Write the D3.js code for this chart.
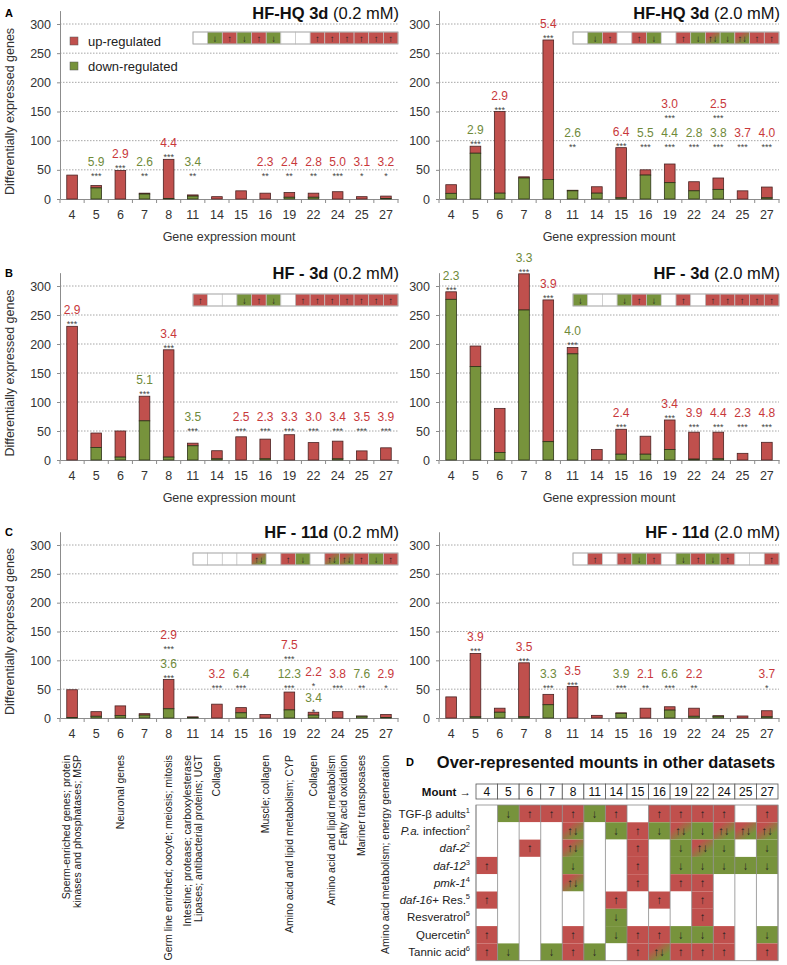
<!DOCTYPE html>
<html>
<head>
<meta charset="utf-8">
<script src="https://cdn.jsdelivr.net/npm/d3@7"></script>
<style>
  body { margin: 0; background: #fff; }
  svg { display: block; font-family: "Liberation Sans", Arial, sans-serif; }
</style>
</head>
<body>
<div id="chart"></div>
<script>
// ---- data ----
const mounts = ["4", "5", "6", "7", "8", "11", "14", "15", "16", "19", "22", "24", "25", "27"];
const yTicks = [0, 50, 100, 150, 200, 250, 300];

// total differentially expressed genes per mount and the down-regulated part
const hq3Low_total  = [41, 23, 49, 10, 68, 7, 4, 14, 10, 11, 10, 12.5, 4, 5];
const hq3Low_down   = [0, 19, 0, 8.5, 1, 5, 0, 0, 0, 3, 3, 0, 0, 1];
const hq3High_total = [24.5, 90.5, 150, 38, 272.6, 15, 21, 88, 50, 60, 29.6, 36, 14, 20.5];
const hq3High_down  = [9.7, 78.5, 10, 36, 33.5, 14, 10, 2, 41, 28, 14, 16.5, 0, 2];
const hf3Low_total  = [230.5, 46.5, 50, 110, 190, 29, 16, 40, 36, 43.6, 30, 32.5, 15.7, 21];
const hf3Low_down   = [0, 21.5, 5, 67.5, 5, 24.5, 2, 0, 2, 0, 0, 2, 0, 0];
const hf3High_total = [290, 196.5, 89, 321, 276, 194, 18, 53, 41, 69, 48, 48, 11.5, 30.5];
const hf3High_down  = [277, 161, 13, 258.6, 31.6, 183, 0, 10, 10, 18, 1.5, 2, 0, 0];
const hf11Low_total = [49, 11, 21, 7.5, 66.7, 2, 24, 18, 6, 45, 10, 11, 3.5, 6];
const hf11Low_down  = [1, 3, 4, 5, 16, 1, 0, 9, 0, 14, 5, 0, 3, 1];
const hf11High_total = [36.6, 112, 17, 95.7, 41, 54.5, 4.6, 9, 17, 19.5, 17, 4, 3.5, 12.6];
const hf11High_down  = [0, 2, 10, 2, 23, 0, 0, 8, 0, 13.7, 3, 3, 0, 2];

// over-representation: [mount, fold, significance, direction u/d]
const hq3Low_notes = [["5","5.9","***","d"],["6","2.9","***","u"],["7","2.6","**","d"],["8","4.4","***","u"],
  ["11","3.4","**","d"],["16","2.3","**","u"],["19","2.4","**","u"],["22","2.8","**","u"],["24","5.0","***","u"],
  ["25","3.1","*","u"],["27","3.2","*","u"]];
const hq3High_notes = [["5","2.9","***","d"],["6","2.9","***","u"],["8","5.4","***","u"],["11","2.6","**","d"],
  ["15","6.4","***","u"],["16","5.5","***","d"],["19","3.0","***","u"],["19","4.4","***","d"],["22","2.8","***","d"],
  ["24","2.5","***","u"],["24","3.8","***","d"],["25","3.7","***","u"],["27","4.0","***","u"]];
const hf3Low_notes = [["4","2.9","***","u"],["7","5.1","***","d"],["8","3.4","***","u"],["11","3.5","***","d"],
  ["15","2.5","***","u"],["16","2.3","***","u"],["19","3.3","***","u"],["22","3.0","***","u"],["24","3.4","***","u"],
  ["25","3.5","***","u"],["27","3.9","***","u"]];
const hf3High_notes = [["4","2.3","***","d"],["7","3.3","***","d"],["8","3.9","***","u"],["11","4.0","***","d"],
  ["15","2.4","***","u"],["19","3.4","***","u"],["22","3.9","***","u"],["24","4.4","***","u"],["25","2.3","***","u"],
  ["27","4.8","***","u"]];
const hf11Low_notes = [["8","2.9","***","u"],["8","3.6","***","d"],["14","3.2","***","u"],["15","6.4","***","d"],
  ["19","7.5","***","u"],["19","12.3","***","d"],["22","2.2","*","u"],["22","3.4","*","d"],["24","3.8","***","u"],
  ["25","7.6","**","d"],["27","2.9","*","u"]];
const hf11High_notes = [["5","3.9","***","u"],["7","3.5","***","u"],["8","3.3","***","d"],["11","3.5","***","u"],
  ["15","3.9","***","d"],["16","2.1","**","u"],["19","6.6","***","d"],["22","2.2","**","u"],["27","3.7","*","u"]];

// functional description of the mounts (below panel C)
const mountInfo = [["Sperm-enriched genes; protein", "kinases and phosphatases; MSP"], [], ["Neuronal genes"], [],
  ["Germ line enriched; oocyte; meiosis; mitosis"],
  ["Intestine; protease; carboxylesterase", "Lipases; antibacterial proteins; UGT"], ["Collagen"], [],
  ["Muscle; collagen"], ["Amino acid and lipid metabolism;  CYP"], ["Collagen"],
  ["Amino acid and lipid metabolism", "Fatty acid oxidation"], ["Mariner transposases"],
  ["Amino acid metabolism; energy generation"]];

// panel D: 1 up, -1 down, 2 both, 0 none
const otherItalic = ["", "P.a.", "daf-2", "daf-12", "pmk-1", "daf-16", "", "", ""];
const otherText   = ["TGF-β adults", " infection", "", "", "", "+ Res.", "Resveratrol", "Quercetin", "Tannic acid"];
const otherRef    = ["1", "2", "2", "3", "4", "5", "5", "6", "6"];
const otherCells = [
  [0,-1,1,1,1,-1,1,0,1,1,1,1,0,1],
  [0,0,0,0,2,0,-1,1,-1,2,-1,2,2,2],
  [0,0,1,0,2,0,0,1,0,-1,2,-1,0,-1],
  [1,0,0,0,-1,0,0,1,0,-1,-1,-1,-1,-1],
  [0,0,0,0,2,0,0,1,0,1,1,0,0,0],
  [1,0,0,0,0,0,1,0,1,0,1,0,0,0],
  [0,0,0,0,0,0,-1,0,0,0,1,0,0,0],
  [1,0,0,0,1,0,-1,1,1,-1,-1,1,0,-1],
  [1,-1,0,-1,1,-1,0,1,2,1,1,1,0,1]
];

// ---- layout ----
const FONT = '"Liberation Sans", Arial, sans-serif';
const RED = "#c0504d", GREEN = "#77933c";
const RED_TXT = "#c8383b", GREEN_TXT = "#6f8a3a";
const rows = [
  { top: 24, bot: 199, titleY: 13, stripY: 32, letter: "A" },
  { top: 286, bot: 460, titleY: 273, stripY: 294, letter: "B" },
  { top: 545, bot: 718, titleY: 532, stripY: 553, letter: "C" }
];
const cols = [
  { x0: 60, x1: 398, sx0: 193, sx1: 398 },
  { x0: 439, x1: 779, sx0: 573, sx1: 779 }
];

const panels = [
  { row: 0, col: 0, bold: "HF-HQ 3d", conc: "(0.2 mM)", total: hq3Low_total, down: hq3Low_down, notes: hq3Low_notes, floor: 36 },
  { row: 0, col: 1, bold: "HF-HQ 3d", conc: "(2.0 mM)", total: hq3High_total, down: hq3High_down, notes: hq3High_notes, floor: 86 },
  { row: 1, col: 0, bold: "HF - 3d", conc: "(0.2 mM)", total: hf3Low_total, down: hf3Low_down, notes: hf3Low_notes, floor: 46 },
  { row: 1, col: 1, bold: "HF - 3d", conc: "(2.0 mM)", total: hf3High_total, down: hf3High_down, notes: hf3High_notes, floor: 54 },
  { row: 2, col: 0, bold: "HF - 11d", conc: "(0.2 mM)", total: hf11Low_total, down: hf11Low_down, notes: hf11Low_notes, floor: 48, lowPair: ["22"] },
  { row: 2, col: 1, bold: "HF - 11d", conc: "(2.0 mM)", total: hf11High_total, down: hf11High_down, notes: hf11High_notes, floor: 49 }
];

const svg = d3.select("#chart").append("svg").attr("width", 787).attr("height", 965);

// red-green blend for "both directions" cells
const mix = svg.append("defs").append("linearGradient").attr("id", "mix")
  .attr("x1", "0%").attr("y1", "0%").attr("x2", "100%").attr("y2", "100%");
mix.append("stop").attr("offset", "25%").attr("stop-color", RED);
mix.append("stop").attr("offset", "75%").attr("stop-color", GREEN);

const cellFill = c => c === 1 ? RED : c === -1 ? GREEN : c === 2 ? "url(#mix)" : "#fff";
const cellArrow = c => c === 1 ? "↑" : c === -1 ? "↓" : c === 2 ? "↑↓" : "";

function stripCodes(notes) {
  return mounts.map(m => {
    const dirs = notes.filter(n => n[0] === m).map(n => n[3]);
    const up = dirs.includes("u"), dn = dirs.includes("d");
    return up && dn ? 2 : up ? 1 : dn ? -1 : 0;
  });
}


class BarPanel {
  constructor(svg, cfg) {
    this.cfg = cfg;
    this.row = rows[cfg.row];
    this.col = cols[cfg.col];
    this.g = svg.append("g").attr("class", "panel");
    const ppu = (this.row.bot - this.row.top) / 300;
    this.x = d3.scaleBand().domain(mounts).range([this.col.x0, this.col.x1])
      .paddingInner(0.56).paddingOuter(0.28);
    this.y = d3.scaleLinear().domain([0, 323]).range([this.row.bot, this.row.bot - 323 * ppu]);
  }

  draw() {
    this.drawGrid();
    this.drawAxes();
    this.drawBars();
    this.drawNotes();
    this.drawStrip();
    this.drawTitle();
  }

  drawGrid() {
    this.g.append("g").selectAll("line").data(yTicks.slice(1)).join("line")
      .attr("x1", this.col.x0).attr("x2", this.col.x1)
      .attr("y1", d => this.y(d)).attr("y2", d => this.y(d))
      .attr("stroke", "#8f8f8f").attr("stroke-width", 0.8).attr("stroke-dasharray", "1.5,1.5");
  }

  drawAxes() {
    const ya = this.g.append("g").attr("transform", `translate(${this.col.x0},0)`)
      .call(d3.axisLeft(this.y).tickValues(yTicks).tickSize(3).tickSizeOuter(0).tickPadding(6));
    ya.select(".domain").attr("stroke", "#8c8c8c");
    ya.selectAll(".tick line").attr("stroke", "#8c8c8c");
    ya.selectAll("text").attr("font-size", 12.5).attr("font-family", FONT).attr("fill", "#333");

    const xa = this.g.append("g").attr("transform", `translate(0,${this.row.bot})`)
      .call(d3.axisBottom(this.x).tickSize(0).tickSizeOuter(0).tickPadding(11));
    xa.select(".domain").attr("stroke", "#8c8c8c");
    xa.selectAll("text").attr("font-size", 12.5).attr("font-family", FONT).attr("fill", "#333");

    // separators between categories
    const step = this.x.step();
    this.g.append("g").selectAll("line").data(d3.range(mounts.length + 1)).join("line")
      .attr("x1", i => this.col.x0 + i * step).attr("x2", i => this.col.x0 + i * step)
      .attr("y1", this.row.bot).attr("y2", this.row.bot + 4)
      .attr("stroke", "#8c8c8c");

    if (this.cfg.row < 2) {
      this.g.append("text")
        .attr("x", (this.col.x0 + this.col.x1) / 2).attr("y", this.row.bot + 42)
        .attr("text-anchor", "middle").attr("font-size", 12.5).attr("fill", "#333")
        .text("Gene expression mount");
    }
    if (this.cfg.col === 0) {
      this.g.append("text")
        .attr("transform", `translate(14,${(this.row.top + this.row.bot) / 2}) rotate(-90)`)
        .attr("text-anchor", "middle").attr("font-size", 12.5).attr("fill", "#333")
        .text("Differentially expressed genes");
      this.g.append("text")
        .attr("x", 5).attr("y", this.row.titleY + 4)
        .attr("font-size", 11).attr("font-weight", "bold")
        .text(this.row.letter);
    }
  }

  drawBars() {
    const data = mounts.map((m, i) => ({ m, total: this.cfg.total[i], down: this.cfg.down[i] }));
    const bw = this.x.bandwidth();
    const bars = this.g.append("g").selectAll("g").data(data).join("g");
    bars.append("rect")
      .attr("x", d => this.x(d.m)).attr("width", bw)
      .attr("y", d => this.y(d.total)).attr("height", d => this.y(d.down) - this.y(d.total))
      .attr("fill", RED).attr("stroke", "#4a2222").attr("stroke-width", 0.8);
    bars.filter(d => d.down > 0).append("rect")
      .attr("x", d => this.x(d.m)).attr("width", bw)
      .attr("y", d => this.y(d.down)).attr("height", d => this.y(0) - this.y(d.down))
      .attr("fill", GREEN).attr("stroke", "#2c3318").attr("stroke-width", 0.8);
  }

  drawNotes() {
    const notesG = this.g.append("g");
    const bw = this.x.bandwidth();
    mounts.forEach((m, i) => {
      const here = this.cfg.notes.filter(n => n[0] === m)
        .sort((a, b) => (a[3] === "d" ? 0 : 1) - (b[3] === "d" ? 0 : 1));
      const total = this.cfg.total[i];
      const cx = this.x(m) + bw / 2;
      const low = this.cfg.lowPair && this.cfg.lowPair.includes(m);
      here.forEach((n, k) => {
        let base = Math.max(total, this.cfg.floor), level = k;
        let shift = 0;
        if (low) {
          base = k === 0 ? total : Math.max(total, this.cfg.floor);
          level = 0;
          shift = k === 0 ? 1.5 : -2;
        }
        const top = this.y(base) - level * 29 + shift;
        notesG.append("text")
          .attr("x", cx).attr("y", top + 1)
          .attr("text-anchor", "middle").attr("font-size", 9).attr("fill", "#444")
          .text(n[2]);
        notesG.append("text")
          .attr("x", cx).attr("y", top - 12)
          .attr("text-anchor", "middle").attr("font-size", 12)
          .attr("fill", n[3] === "u" ? RED_TXT : GREEN_TXT)
          .text(n[1]);
      });
    });
  }

  drawStrip() {
    const codes = stripCodes(this.cfg.notes);
    const sx = d3.scaleBand().domain(mounts).range([this.col.sx0, this.col.sx1]);
    const y0 = this.row.stripY, h = 12;
    const cells = this.g.append("g").selectAll("g").data(mounts.map((m, i) => ({ m, c: codes[i] }))).join("g");
    cells.append("rect")
      .attr("x", d => sx(d.m)).attr("y", y0).attr("width", sx.bandwidth()).attr("height", h)
      .attr("fill", d => cellFill(d.c)).attr("stroke", "#c4c4c4").attr("stroke-width", 0.7);
    cells.append("text")
      .attr("x", d => sx(d.m) + sx.bandwidth() / 2).attr("y", y0 + h / 2 + 3.5)
      .attr("text-anchor", "middle").attr("font-size", 9.5).attr("fill", "#222")
      .text(d => cellArrow(d.c));
    this.g.append("rect")
      .attr("x", this.col.sx0).attr("y", y0).attr("width", this.col.sx1 - this.col.sx0).attr("height", h)
      .attr("fill", "none").attr("stroke", "#aaa").attr("stroke-width", 0.8);
  }

  drawTitle() {
    const t = this.g.append("text")
      .attr("x", this.col.x1 + 1).attr("y", this.row.titleY + 6)
      .attr("text-anchor", "end").attr("font-size", 16.5).attr("fill", "#111");
    t.append("tspan").attr("font-weight", "bold").text(this.cfg.bold);
    t.append("tspan").text(" " + this.cfg.conc);
  }
}

panels.forEach(p => new BarPanel(svg, p).draw());

// legend (panel A, left)
const legend = svg.append("g").attr("class", "legend");
[["up-regulated", RED, 41], ["down-regulated", GREEN, 66]].forEach(([label, color, cy]) => {
  legend.append("rect").attr("x", 70).attr("y", cy - 4).attr("width", 8).attr("height", 8)
    .attr("fill", color).attr("stroke", "#555").attr("stroke-width", 0.5);
  legend.append("text").attr("x", 88).attr("y", cy + 4.5).attr("font-size", 13).attr("fill", "#222").text(label);
});

// mount descriptions under panel C (left)
const xDesc = d3.scaleBand().domain(mounts).range([cols[0].x0, cols[0].x1]).paddingInner(0.56).paddingOuter(0.28);
const desc = svg.append("g").attr("class", "descriptions");
mounts.forEach((m, i) => {
  const lines = mountInfo[i];
  const cx = xDesc(m) + xDesc.bandwidth() / 2;
  lines.forEach((line, k) => {
    const off = (k - (lines.length - 1) / 2) * 11.5;
    desc.append("text")
      .attr("transform", `translate(${cx + off + 3.5},755) rotate(-90)`)
      .attr("text-anchor", "end").attr("font-size", 10.5).attr("fill", "#222")
      .text(line);
  });
});

// ---- panel D ----
const tbl = svg.append("g").attr("class", "table");
tbl.append("text").attr("x", 406).attr("y", 766).attr("font-size", 11).attr("font-weight", "bold").text("D");
tbl.append("text").attr("x", 606).attr("y", 768).attr("text-anchor", "middle")
  .attr("font-size", 16.5).attr("font-weight", "bold").attr("fill", "#111")
  .text("Over-represented mounts in other datasets");

const tx = d3.scaleBand().domain(mounts).range([476, 778]);
const headTop = 784, headH = 15, bodyTop = 805, rowH = 17.3;
const ty = d3.scaleBand().domain(d3.range(otherCells.length)).range([bodyTop, bodyTop + rowH * otherCells.length]);

const mountLabel = tbl.append("text").attr("x", 471).attr("y", headTop + 11.5)
  .attr("text-anchor", "end").attr("font-size", 11.5).attr("fill", "#111");
mountLabel.append("tspan").attr("font-weight", "bold").text("Mount ");
mountLabel.append("tspan").text("→");

tbl.append("g").selectAll("rect").data(mounts).join("rect")
  .attr("x", d => tx(d)).attr("y", headTop).attr("width", tx.bandwidth()).attr("height", headH)
  .attr("fill", "#fff").attr("stroke", "#555").attr("stroke-width", 0.8);
tbl.append("g").selectAll("text").data(mounts).join("text")
  .attr("x", d => tx(d) + tx.bandwidth() / 2).attr("y", headTop + 11.5)
  .attr("text-anchor", "middle").attr("font-size", 12).attr("fill", "#111").text(d => d);

otherCells.forEach((rowCodes, r) => {
  const rg = tbl.append("g");
  rg.selectAll("rect").data(mounts).join("rect")
    .attr("x", d => tx(d)).attr("y", ty(r)).attr("width", tx.bandwidth()).attr("height", ty.bandwidth())
    .attr("fill", (d, i) => cellFill(rowCodes[i]));
  rg.selectAll("text").data(mounts).join("text")
    .attr("x", d => tx(d) + tx.bandwidth() / 2).attr("y", ty(r) + ty.bandwidth() / 2 + 4)
    .attr("text-anchor", "middle").attr("font-size", 11.5).attr("fill", "#222")
    .text((d, i) => cellArrow(rowCodes[i]));

  const lab = tbl.append("text").attr("x", 470).attr("y", ty(r) + ty.bandwidth() / 2 + 4)
    .attr("text-anchor", "end").attr("font-size", 11.5).attr("fill", "#222");
  if (otherItalic[r]) lab.append("tspan").attr("font-style", "italic").text(otherItalic[r]);
  if (otherText[r]) lab.append("tspan").text(otherText[r]);
  lab.append("tspan").attr("font-size", 7.5).attr("dy", -5).text(otherRef[r]);
});

// vertical grid lines and frame of the table body
tbl.append("g").selectAll("line").data(d3.range(mounts.length + 1)).join("line")
  .attr("x1", i => 476 + i * tx.step()).attr("x2", i => 476 + i * tx.step())
  .attr("y1", bodyTop).attr("y2", bodyTop + rowH * otherCells.length)
  .attr("stroke", "#8a8a8a").attr("stroke-width", 0.8);
tbl.append("rect").attr("x", 476).attr("y", bodyTop).attr("width", 302).attr("height", rowH * otherCells.length)
  .attr("fill", "none").attr("stroke", "#8a8a8a").attr("stroke-width", 0.8);
</script>
</body>
</html>
